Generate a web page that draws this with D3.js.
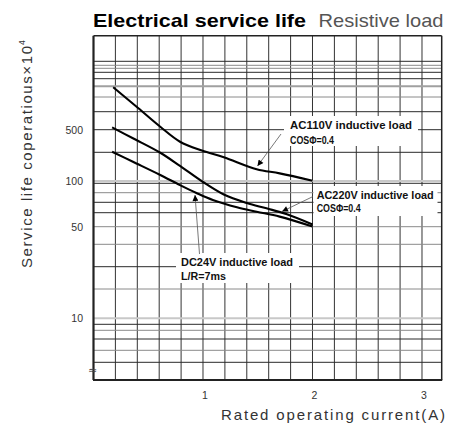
<!DOCTYPE html>
<html>
<head>
<meta charset="utf-8">
<script src="https://cdn.jsdelivr.net/npm/d3@7"></script>
<style>
  html, body { margin: 0; padding: 0; background: #fff; }
  svg { display: block; }
</style>
</head>
<body>
<script>
// values, life in x10^4 operations
var xTickValues = [1, 2, 3];
var yTickValues = [500, 100, 50, 10];

var ac110Current = [0.18, 0.41, 0.61, 0.79, 0.99, 1.19, 1.49, 1.70, 2.0];
var ac110Life    = [790, 622, 515, 381, 312, 248, 157, 134, 101];

var ac220Current = [0.17, 0.36, 0.61, 0.79, 1.0, 1.19, 1.40, 1.58, 1.76, 2.0];
var ac220Life    = [512, 412, 295, 178, 95.5, 78, 69.3, 64, 59, 51.5];

var dc24Current  = [0.17, 0.36, 0.61, 0.79, 0.94, 1.09, 1.31, 1.49, 1.70, 2.0];
var dc24Life     = [304, 209, 126, 88, 79.7, 72.3, 65, 60.9, 57, 50.1];

// the printed grid is not a clean log grid, so the y scale follows its lines
var gridValues = [4, 5, 6, 7, 8, 9, 10, 20, 30, 40, 50, 60, 70, 80, 90, 100, 300, 500, 600, 700, 800, 900, 1000, 2000, 3000, 4000, 10000];
var gridPixels = [380, 362.3, 350.3, 339, 330.3, 324.3, 318.3, 289, 266.7, 244.3, 226.7, 212.7, 202.3, 192.7, 183.3, 181, 152.3, 129.7, 111.7, 97, 86.3, 78.7, 72.3, 68.3, 65.3, 61.3, 35.7];
var lightLines = [10, 100];
var grayLines = [6, 8, 20, 40, 50, 80, 700, 2000, 3000];
var thickGrayLines = [800];

var width = 449, height = 438;

var svg = d3.select("body").append("svg")
  .attr("width", width)
  .attr("height", height);

var x = d3.scaleLinear().domain([0, 3.18]).range([93.5, 441.7]);
var yLog = d3.scaleLinear().domain(gridValues.map(Math.log10)).range(gridPixels);
function y(v) { return yLog(Math.log10(v)); }

var defs = svg.append("defs");
defs.append("marker")
  .attr("id", "arrow")
  .attr("viewBox", "0 0 10 10")
  .attr("refX", 10).attr("refY", 5)
  .attr("markerWidth", 7).attr("markerHeight", 6)
  .attr("markerUnits", "userSpaceOnUse")
  .attr("orient", "auto")
  .append("path").attr("d", "M0,0L10,5L0,10Z").attr("fill", "#000");

var plotTop = y(10000), plotBottom = y(4), plotLeft = x(0), plotRight = x(3.18);

// vertical grid
var grid = svg.append("g");
grid.selectAll("line.v")
  .data(d3.range(1, 16).map(function(i) { return +(i * 0.2).toFixed(1); }))
  .enter().append("line")
  .attr("x1", function(d) { return x(d); })
  .attr("x2", function(d) { return x(d); })
  .attr("y1", plotTop).attr("y2", plotBottom)
  .attr("stroke", "#333").attr("stroke-width", 1);

// horizontal grid
grid.selectAll("line.h")
  .data(gridValues.slice(1, -1))
  .enter().append("line")
  .attr("x1", plotLeft).attr("x2", plotRight)
  .attr("y1", function(d) { return y(d); })
  .attr("y2", function(d) { return y(d); })
  .attr("stroke", function(d) {
    if (lightLines.indexOf(d) >= 0) return "#c8c8c8";
    if (thickGrayLines.indexOf(d) >= 0) return "#a0a0a0";
    if (grayLines.indexOf(d) >= 0) return "#8a8a8a";
    return "#2a2a2a";
  })
  .attr("stroke-width", function(d) {
    if (lightLines.indexOf(d) >= 0 || thickGrayLines.indexOf(d) >= 0) return 2;
    return 1;
  });

// frame
svg.append("line").attr("x1", plotLeft).attr("x2", plotRight).attr("y1", plotTop).attr("y2", plotTop)
  .attr("stroke", "#222").attr("stroke-width", 1.5);
svg.append("line").attr("x1", plotRight).attr("x2", plotRight).attr("y1", plotTop).attr("y2", plotBottom)
  .attr("stroke", "#222").attr("stroke-width", 1.5);
svg.append("line").attr("x1", plotLeft - 0.5).attr("x2", plotRight + 0.5).attr("y1", plotBottom).attr("y2", plotBottom)
  .attr("stroke", "#222").attr("stroke-width", 2.2);
svg.append("line").attr("x1", plotLeft).attr("x2", plotLeft).attr("y1", plotTop).attr("y2", plotBottom)
  .attr("stroke", "#222").attr("stroke-width", 2.2);

// axis break mark
svg.append("text").attr("x", plotLeft - 1).attr("y", 374)
  .attr("text-anchor", "middle")
  .style("font", "11px 'DejaVu Sans'").style("fill", "#444")
  .text("\u2248");

// annotation backgrounds
var boxes = [
  {x: 284, y: 116, w: 134, h: 30},
  {x: 313.5, y: 186, w: 124, h: 30},
  {x: 176, y: 253, w: 123, h: 30}
];
svg.selectAll("rect.box").data(boxes).enter().append("rect")
  .attr("x", function(d) { return d.x; }).attr("y", function(d) { return d.y; })
  .attr("width", function(d) { return d.w; }).attr("height", function(d) { return d.h; })
  .attr("fill", "#fff");

// curves
var line = d3.line()
  .x(function(d) { return x(d[0]); })
  .y(function(d) { return y(d[1]); })
  .curve(d3.curveCatmullRom);

[[ac110Current, ac110Life], [ac220Current, ac220Life], [dc24Current, dc24Life]].forEach(function(s) {
  svg.append("path")
    .datum(d3.zip(s[0], s[1]))
    .attr("d", line)
    .attr("fill", "none")
    .attr("stroke", "#000")
    .attr("stroke-width", 2.1)
    .attr("stroke-linejoin", "round");
});

// arrows
var arrows = [
  {x1: 281, y1: 134, x2: 257.5, y2: 166},
  {x1: 313, y1: 196.5, x2: 282, y2: 211.5},
  {x1: 199.5, y1: 254, x2: 195, y2: 195}
];
svg.selectAll("line.arrow").data(arrows).enter().append("line")
  .attr("x1", function(d) { return d.x1; }).attr("y1", function(d) { return d.y1; })
  .attr("x2", function(d) { return d.x2; }).attr("y2", function(d) { return d.y2; })
  .attr("stroke", "#555").attr("stroke-width", 0.8)
  .attr("marker-end", "url(#arrow)");

// annotation texts
var notes = [
  {x: 290, y: 128.5, t: "AC110V inductive load", w: 122},
  {x: 290, y: 143.5, t: "COS\u03A6=0.4", w: 44},
  {x: 316.7, y: 198.5, t: "AC220V inductive load", w: 117},
  {x: 316.7, y: 212, t: "COS\u03A6=0.4", w: 44},
  {x: 181, y: 266, t: "DC24V inductive load", w: 112},
  {x: 181, y: 279.5, t: "L/R=7ms", w: 45}
];
svg.selectAll("text.note").data(notes).enter().append("text")
  .attr("x", function(d) { return d.x; }).attr("y", function(d) { return d.y; })
  .attr("textLength", function(d) { return d.w; })
  .attr("lengthAdjust", "spacingAndGlyphs")
  .style("font", "bold 11px 'Liberation Sans', Arial, sans-serif")
  .style("fill", "#111")
  .text(function(d) { return d.t; });

// tick labels
svg.selectAll("text.ytick").data(yTickValues).enter().append("text")
  .attr("x", 83).attr("y", function(d) { return y(d) + 4; })
  .attr("text-anchor", "end")
  .style("font", "10.5px 'Liberation Sans', Arial, sans-serif")
  .style("fill", "#333")
  .text(function(d) { return d; });

svg.selectAll("text.xtick").data(xTickValues).enter().append("text")
  .attr("x", function(d) { return x(d) + 2; }).attr("y", 399)
  .attr("text-anchor", "middle")
  .style("font", "10.5px 'Liberation Sans', Arial, sans-serif")
  .style("fill", "#333")
  .text(function(d) { return d; });

// titles
svg.append("text").attr("x", 93).attr("y", 26.5)
  .attr("textLength", 213).attr("lengthAdjust", "spacingAndGlyphs")
  .style("font", "bold 19px 'Liberation Sans', Arial, sans-serif")
  .style("fill", "#000")
  .text("Electrical service life");
svg.append("text").attr("x", 318.5).attr("y", 26.5)
  .attr("textLength", 125).attr("lengthAdjust", "spacingAndGlyphs")
  .style("font", "19px 'Liberation Sans', Arial, sans-serif")
  .style("fill", "#555")
  .text("Resistive load");

svg.append("text").attr("x", 221).attr("y", 419.5)
  .attr("textLength", 224).attr("lengthAdjust", "spacing")
  .style("font", "15px 'Liberation Sans', Arial, sans-serif")
  .style("fill", "#333")
  .text("Rated operating current(A)");

var yTitle = svg.append("g").attr("transform", "translate(31.5,268) rotate(-90)");
yTitle.append("text").attr("x", 0).attr("y", 0)
  .attr("textLength", 222).attr("lengthAdjust", "spacing")
  .style("font", "15px 'Liberation Sans', Arial, sans-serif")
  .style("fill", "#333")
  .text("Service life coperatious\u00D710");
yTitle.append("text").attr("x", 223).attr("y", -6.5)
  .style("font", "8.5px 'Liberation Sans', Arial, sans-serif")
  .style("fill", "#333")
  .text("4");
</script>
</body>
</html>
